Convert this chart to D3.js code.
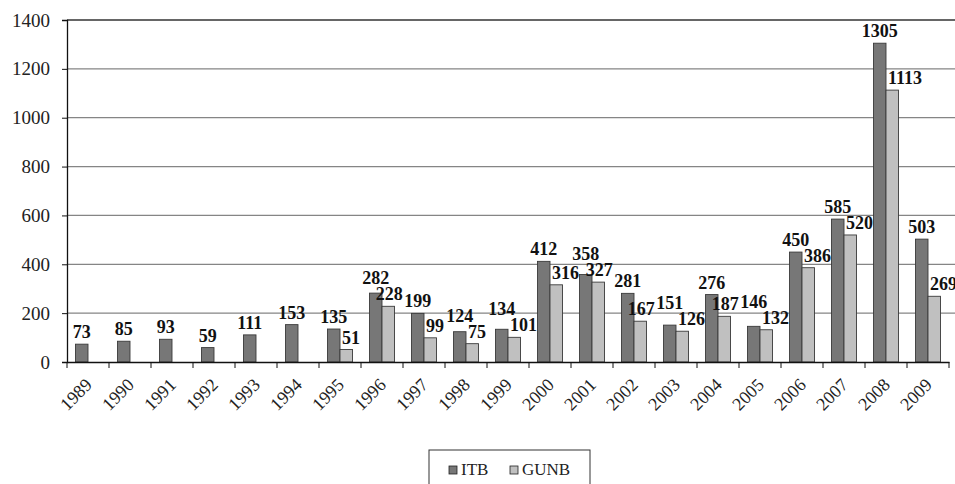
<!DOCTYPE html>
<html>
<head>
<meta charset="utf-8">
<script src="https://cdn.jsdelivr.net/npm/d3@7"></script>
<style>
  body { margin: 0; background: #fff; }
  svg { display: block; font-family: "Liberation Serif", "Times New Roman", serif; }
</style>
</head>
<body>
<svg id="chart" width="955" height="484"></svg>
<script>
var years = ["1989","1990","1991","1992","1993","1994","1995","1996","1997","1998","1999",
  "2000","2001","2002","2003","2004","2005","2006","2007","2008","2009"];
var itb = [73, 85, 93, 59, 111, 153, 135, 282, 199, 124, 134, 412, 358, 281, 151, 276, 146, 450, 585, 1305, 503];
var gunb = [null, null, null, null, null, null, 51, 228, 99, 75, 101, 316, 327, 167, 126, 187, 132, 386, 520, 1113, 269];
var seriesNames = ["ITB", "GUNB"];
var yTicks = [0, 200, 400, 600, 800, 1000, 1200, 1400];

var svg = d3.select("#chart");
var m = {left: 67, right: 6, top: 20, bottom: 122};
var W = 955, H = 484;

var x = d3.scaleBand().domain(years).range([m.left, W - m.right]);
var y = d3.scaleLinear().domain([0, 1400]).range([H - m.bottom, m.top]);
var colors = ["#777777", "#c0c0c0"];
var barW = 12.5;
var gap = 6;
var digitW = 9;

// gridlines
svg.append("g").selectAll("line").data(yTicks.slice(1)).enter().append("line")
  .attr("x1", m.left).attr("x2", W)
  .attr("y1", function(d){ return y(d); }).attr("y2", function(d){ return y(d); })
  .attr("stroke", function(d){ return d === 1400 ? "#333" : "#858585"; })
  .attr("stroke-width", 1.3);

// bars
var rows = years.map(function(yr, i){ return {year: yr, vals: [itb[i], gunb[i]]}; });
var groups = svg.append("g").selectAll("g").data(rows).enter().append("g");
groups.each(function(d){
  var g = d3.select(this);
  var cx = x(d.year) + x.bandwidth() / 2;
  d.vals.forEach(function(v, k){
    if (v === null) return;
    g.append("rect")
      .attr("x", cx - barW + k * barW).attr("y", y(v))
      .attr("width", barW).attr("height", y(0) - y(v))
      .attr("fill", colors[k]).attr("stroke", "#3a3a3a").attr("stroke-width", 0.9);
  });
});

// label layout: lift ITB label above the GUNB one, push GUNB label right
// when ITB is in its way, unless that would hit next year's ITB label
var labels = rows.map(function(d){
  var cx = x(d.year) + x.bandwidth() / 2;
  var a = d.vals[0], b = d.vals[1];
  var aY = y(a) - gap, bY = null;
  if (b !== null) { bY = y(b) - gap; aY = Math.min(aY, bY - 16); }
  return {cx: cx, a: a, b: b, aY: aY, bY: bY};
});
labels.forEach(function(L, i){
  L.shift = false;
  if (L.b === null) return;
  var want = (L.bY - L.aY < 25) || (y(L.a) < L.bY - 30);
  var next = labels[i + 1];
  if (want && next) {
    var right = L.cx + 2 + String(L.b).length * digitW;
    var nextLeft = next.cx - barW / 2 - String(next.a).length * digitW / 2;
    if (right > nextLeft && Math.abs(next.aY - L.bY) < 14) want = false;
  }
  L.shift = want;
});

var lab = svg.append("g").attr("font-size", "18px").attr("font-weight", "bold").attr("fill", "#111");
labels.forEach(function(L){
  lab.append("text").attr("x", L.cx - barW / 2).attr("y", L.aY)
    .attr("text-anchor", "middle").text(L.a);
  if (L.b === null) return;
  lab.append("text")
    .attr("x", L.shift ? L.cx + 2 : L.cx + barW / 2 + 1).attr("y", L.bY)
    .attr("text-anchor", L.shift ? "start" : "middle").text(L.b);
});

// y axis
var yAxis = svg.append("g").attr("transform", "translate(" + m.left + ",0)")
  .call(d3.axisLeft(y).tickValues(yTicks).tickFormat(d3.format("d")).tickSize(5).tickPadding(12));
yAxis.select(".domain").attr("stroke", "#111").attr("stroke-width", 1.3);
yAxis.selectAll(".tick line").attr("stroke", "#111");
yAxis.selectAll("text").attr("font-size", "19px").attr("font-family", "Liberation Serif").attr("fill", "#222");

// x axis
var xAxis = svg.append("g").attr("transform", "translate(0," + y(0) + ")")
  .call(d3.axisBottom(x).tickSize(0));
xAxis.select(".domain").attr("stroke", "#111").attr("stroke-width", 1.3);
xAxis.selectAll(".tick line").remove();
xAxis.selectAll("line.sep").data(years.concat(["end"])).enter().append("line")
  .attr("x1", function(d, i){ return m.left + i * x.bandwidth(); })
  .attr("x2", function(d, i){ return m.left + i * x.bandwidth(); })
  .attr("y1", 0).attr("y2", 6).attr("stroke", "#111");
xAxis.selectAll(".tick text")
  .attr("font-size", "18px").attr("font-family", "Liberation Serif").attr("fill", "#222")
  .attr("text-anchor", "end")
  .attr("y", 0).attr("dy", 0)
  .attr("transform", "translate(5,24) rotate(-45)");

// legend
var lg = svg.append("g").attr("transform", "translate(429,450)");
lg.append("rect").attr("x", 0).attr("y", 0).attr("width", 161).attr("height", 40)
  .attr("fill", "#fff").attr("stroke", "#333").attr("stroke-width", 1);
seriesNames.forEach(function(n, k){
  var lx = 20 + k * 61;
  lg.append("rect").attr("x", lx).attr("y", 16).attr("width", 8).attr("height", 8)
    .attr("fill", colors[k]).attr("stroke", "#222").attr("stroke-width", 0.8);
  lg.append("text").attr("x", lx + 12).attr("y", 25)
    .attr("font-size", "17px").attr("fill", "#222").text(n);
});
</script>
</body>
</html>
